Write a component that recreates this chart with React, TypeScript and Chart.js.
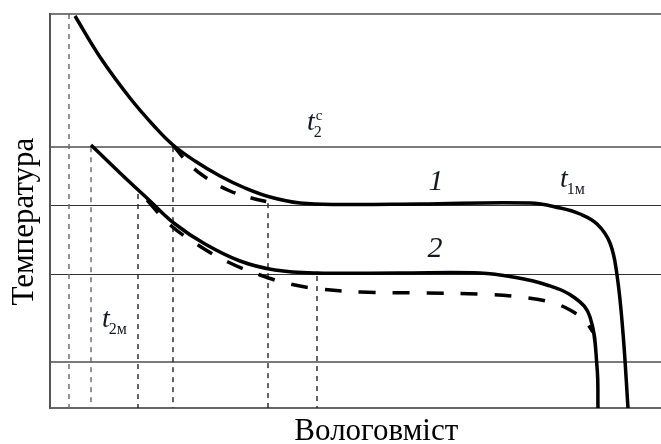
import React, { useEffect, useRef } from "react";
import { Chart, registerables } from "chart.js";

Chart.register(...registerables);

// Horizontal reference levels (temperature, arbitrary units 0..100)
const gridLevels = [0, 11.7, 34.0, 51.5, 66.2, 100];
const strongLevels = [0, 11.7, 66.2, 100];

// Curve 1 (solid)
const curve1X = [4.09, 8.18, 13.09, 17.18, 20.13, 23.73, 27.82, 31.91, 36.01, 40.92, 47.46, 60.56, 78.56, 83.47, 86.74, 89.53, 91.65, 92.8, 93.78, 94.6];
const curve1Y = [99.49, 89.09, 78.68, 71.32, 66.75, 62.69, 58.88, 55.84, 53.55, 52.03, 51.65, 51.78, 52.03, 50.76, 49.24, 46.7, 41.88, 33.76, 19.04, 0];

// Curve 2 (solid)
const curve2X = [6.71, 11.46, 16.37, 20.46, 25.37, 31.1, 36.82, 43.7, 57.28, 70.38, 75.78, 81.34, 85.92, 88.38, 89.53, 89.69];
const curve2Y = [66.75, 59.64, 52.54, 46.7, 41.62, 37.31, 35.03, 34.26, 34.26, 34.26, 33.25, 31.22, 27.92, 23.1, 10.41, 0];

// Curve 1 (dashed branch)
const dash1X = [20.13, 22.59, 25.37, 29.46, 33.55, 36.82];
const dash1Y = [66.75, 62.18, 58.63, 55.08, 53.05, 52.03];

// Curve 2 (dashed branch)
const dash2X = [15.88, 19.48, 24.22, 29.13, 34.37, 39.28, 44.19, 50.74, 60.56, 70.38, 76.92, 81.83, 85.11, 87.56, 88.87];
const dash2Y = [52.79, 46.7, 41.37, 37.06, 33.76, 31.47, 30.2, 29.44, 29.19, 28.93, 28.17, 26.9, 24.87, 22.08, 19.29];

// Vertical dashed drop lines (moisture content positions and their upper ends)
const dropX = [3.11, 6.71, 14.4, 20.13, 35.68, 43.7];
const dropTop = [100, 66.2, 54.3, 66.2, 52.0, 33.5];

const xTitle = "Вологовміст";
const yTitle = "Температура";

const zip = (xs: number[], ys: number[]) => xs.map((x, i) => ({ x, y: ys[i] }));

const SERIF = '"Liberation Serif", "Times New Roman", serif';
const TEXT_COLOR = "#141824";

const labelsPlugin = {
  id: "labels",
  afterDatasetsDraw(chart: any) {
    const { ctx, chartArea, scales } = chart;
    const xs = scales.x;
    const ys = scales.y;
    ctx.save();
    ctx.textBaseline = "alphabetic";

    // Axis titles
    ctx.font = `31px ${SERIF}`;
    ctx.textAlign = "center";
    ctx.fillStyle = "#000";
    ctx.fillText(xTitle, xs.getPixelForValue(53.4), chartArea.bottom + 32);
    ctx.save();
    ctx.translate(chartArea.left - 17, ys.getPixelForValue(47.3));
    ctx.rotate(-Math.PI / 2);
    ctx.fillText(yTitle, 0, 0);
    ctx.restore();

    ctx.fillStyle = TEXT_COLOR;
    // Curve numbers
    ctx.font = `italic 30px ${SERIF}`;
    ctx.fillText("1", xs.getPixelForValue(63.18), ys.getPixelForValue(55.33));
    ctx.fillText("2", xs.getPixelForValue(63.01), ys.getPixelForValue(38.32));

    // t labels with sub/superscripts
    const tLabel = (xv: number, yv: number, sub: string, sup?: string) => {
      const px = xs.getPixelForValue(xv);
      const py = ys.getPixelForValue(yv);
      ctx.textAlign = "left";
      ctx.font = `italic 28px ${SERIF}`;
      ctx.fillText("t", px, py);
      const w = ctx.measureText("t").width;
      ctx.font = `16px ${SERIF}`;
      ctx.fillText(sub, px + w - 1, py + 7);
      if (sup) {
        ctx.font = `15px ${SERIF}`;
        ctx.fillText(sup, px + w + 1, py - 10);
      }
    };
    tLabel(42.06, 70.56, "2", "c");
    tLabel(83.47, 56.09, "1м");
    tLabel(8.51, 20.56, "2м");
    ctx.restore();
  },
};

export default function App() {
  const canvasRef = useRef<HTMLCanvasElement | null>(null);

  useEffect(() => {
    document.body.style.margin = "0";
    const canvas = canvasRef.current;
    if (!canvas) return;

    const curveStyle = {
      borderColor: "#000",
      borderWidth: 3.5,
      pointRadius: 0,
      fill: false,
      tension: 0.4,
      borderCapStyle: "butt" as const,
    };

    const datasets: any[] = [
      { label: "1", data: zip(curve1X, curve1Y), ...curveStyle },
      { label: "2", data: zip(curve2X, curve2Y), ...curveStyle },
      { label: "1'", data: zip(dash1X, dash1Y), ...curveStyle, borderDash: [16, 16] },
      { label: "2'", data: zip(dash2X, dash2Y), ...curveStyle, borderDash: [17, 17] },
      ...dropX.map((x, i) => ({
        label: `d${i}`,
        data: [
          { x, y: dropTop[i] },
          { x, y: 0 },
        ],
        borderColor: i < 2 ? "#666" : "#222",
        borderWidth: 1.4,
        borderDash: [5, 5],
        pointRadius: 0,
        fill: false,
        tension: 0,
      })),
    ];

    const chart = new Chart(canvas, {
      type: "line",
      data: { datasets },
      options: {
        animation: false,
        responsive: false,
        devicePixelRatio: 1,
        layout: { padding: { left: 50, top: 14, right: 0, bottom: 36 } },
        plugins: {
          legend: { display: false },
          tooltip: { enabled: false },
        },
        scales: {
          x: {
            type: "linear",
            min: 0,
            max: 100,
            ticks: { display: false },
            grid: { display: false, drawTicks: false },
            border: { display: true, color: "#666", width: 2 },
          },
          y: {
            type: "linear",
            min: 0,
            max: 100,
            afterBuildTicks: (scale: any) => {
              scale.ticks = gridLevels.map((v) => ({ value: v }));
            },
            ticks: { display: false },
            grid: {
              drawTicks: false,
              color: (c: any) => (strongLevels.includes(c.tick?.value) ? "#7a7a7a" : "#333"),
              lineWidth: (c: any) => (strongLevels.includes(c.tick?.value) ? 2 : 1),
            },
            border: { display: true, color: "#555", width: 2 },
          },
        },
      },
      plugins: [labelsPlugin],
    });

    return () => chart.destroy();
  }, []);

  return (
    <div style={{ position: "fixed", left: 0, top: 0, width: 661, height: 444, background: "#fff" }}>
      <canvas ref={canvasRef} width={661} height={444} />
    </div>
  );
}
